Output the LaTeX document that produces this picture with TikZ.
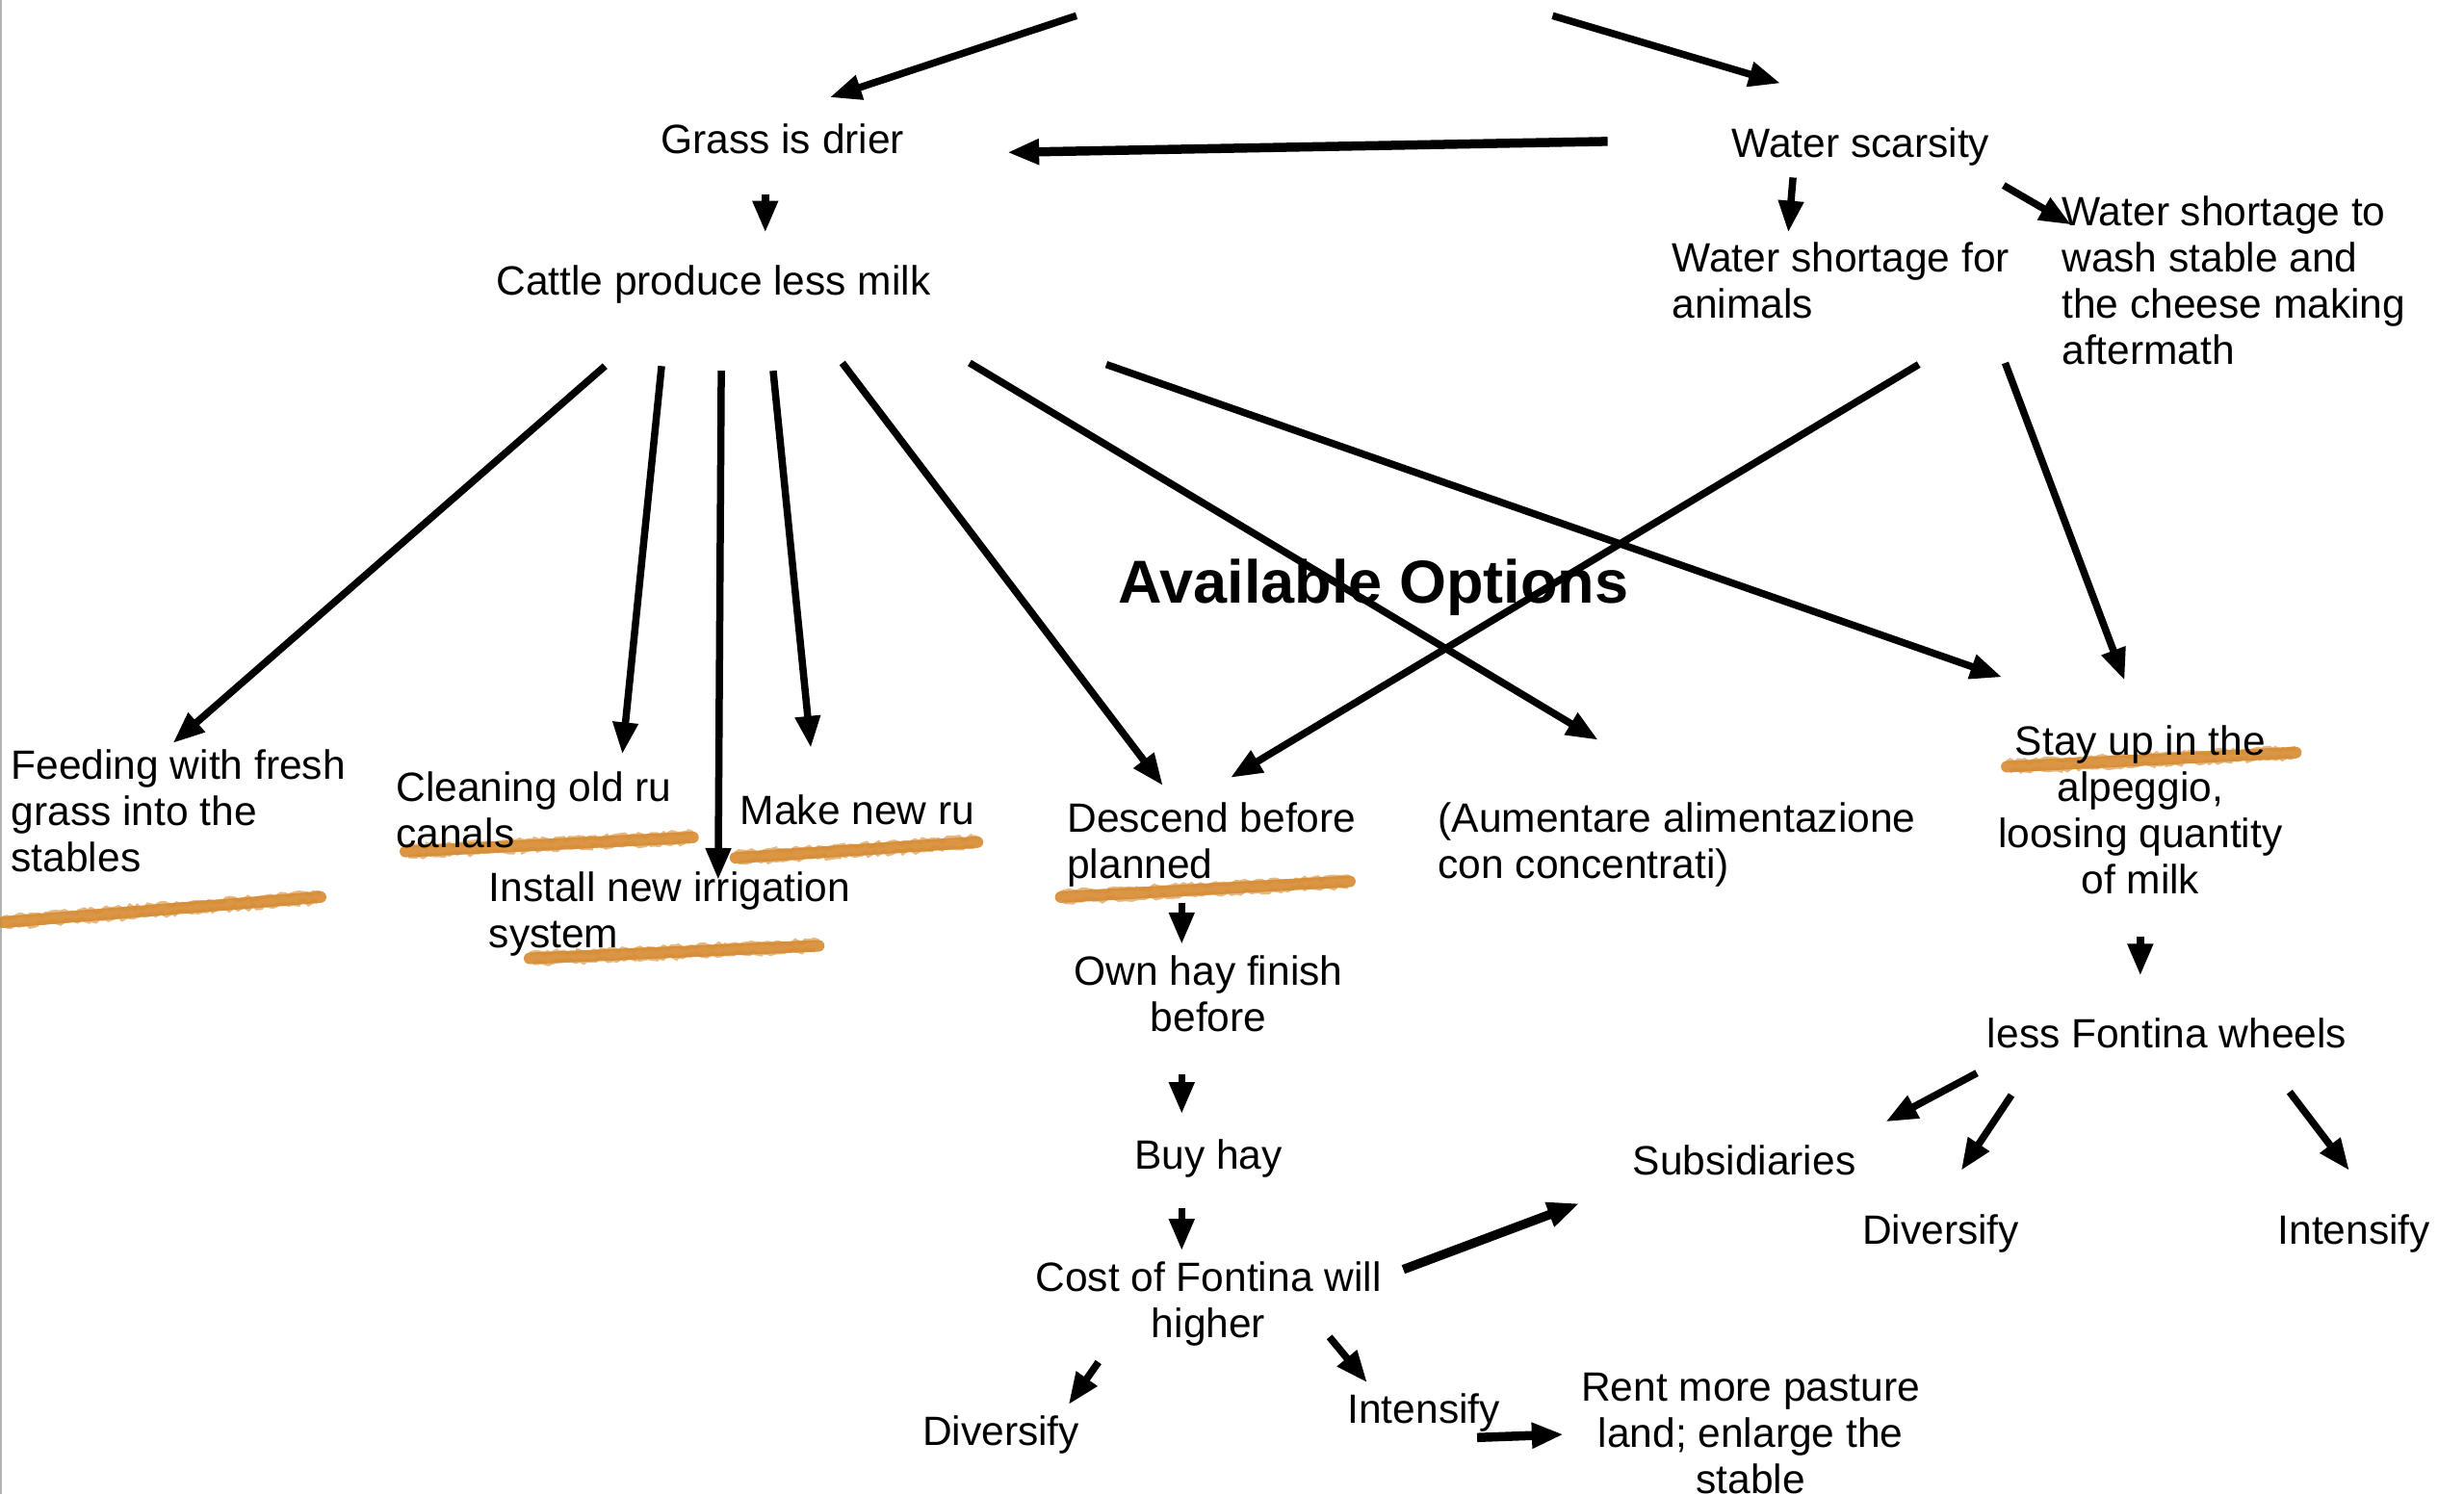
\documentclass[tikz,border=0pt]{standalone}
\usepackage{fontspec}
\setmainfont{Liberation Sans}
\usetikzlibrary{arrows.meta,decorations.pathmorphing}
\definecolor{brush}{RGB}{214,139,49}

\begin{document}
\begin{tikzpicture}[x=1.632pt,y=-1.632pt,
  lbl/.style={inner sep=0pt, font=\fontsize{42.5}{48}\selectfont},
  lblL/.style={lbl, align=left, anchor=base west},
  lblC/.style={lbl, align=center, anchor=base},
  conn/.style={line width=7.5pt, -{Triangle[length=33pt,width=25pt]}},
  heavy/.style={conn, line width=9.5pt},
  hilite/.style={draw=brush, line width=12pt, line cap=round, opacity=0.9},
  hiliteedge/.style={draw=brush, line width=4pt, opacity=0.6,
    decorate, decoration={random steps, segment length=4pt, amplitude=2pt}}]
\pgfmathsetseed{7}

% page and slide edge
\useasboundingbox (0,0) rectangle (1568,951);
\fill[white] (0,0) rectangle (1568,951);
\draw[gray!60, line width=2pt] (0.6,0) -- (0.6,951);

% highlighter strokes under the chosen options
\foreach \xa/\ya/\xb/\yb in {2/587/204/571, 258/542/441/533, 468/546/622/536,
                             337/610/521/602, 675/571/859/561, 1277/488/1461/479} {
  \draw[hilite] (\xa,\ya) -- (\xb,\yb);
  \draw[hiliteedge] (\xa,{\ya-3}) -- (\xb,{\yb-3});
  \draw[hiliteedge] ({\xa+2},{\ya+3}) -- ({\xb-2},{\yb+3});
}

% labels (multi-line labels are placed by the baseline of their last line)
\node[lblC] (grass) at (498,98) {Grass is drier};
\node[lblC] (cattle) at (454,188) {Cattle produce less milk};
\node[lblC] (water) at (1184,100) {Water scarsity};
\node[lblL] (wanim) at (1064,202.4) {Water shortage for\\animals};
\node[lblL] (wwash) at (1312,232.2) {Water shortage to\\wash stable and\\the cheese making\\aftermath};
\node[inner sep=0pt, anchor=base, font=\fontsize{63}{72}\selectfont\bfseries] (avail) at (874,384) {Available Options};
\node[lblL] (feed) at (7,554.8) {Feeding with fresh\\grass into the\\stables};
\node[lblL] (clean) at (252,539.4) {Cleaning old ru\\canals};
\node[lblL] (make) at (471,525) {Make new ru};
\node[lblL] (install) at (311,603.4) {Install new irrigation\\system};
\node[lblL] (descend) at (679,559.4) {Descend before\\planned};
\node[lblL] (aument) at (915,559.4) {(Aumentare alimentazione\\con concentrati)};
\node[lblC] (stay) at (1362,569.2) {Stay up in the\\alpeggio,\\loosing quantity\\of milk};
\node[lblC] (ownhay) at (769,656.4) {Own hay finish\\before};
\node[lblC] (buyhay) at (769,744) {Buy hay};
\node[lblC] (cost) at (769,851.4) {Cost of Fontina will\\higher};
\node[lblC] (divA) at (637,920) {Diversify};
\node[lblC] (intA) at (906,906) {Intensify};
\node[lblC] (rent) at (1114,950.8) {Rent more pasture\\land; enlarge the\\stable};
\node[lblC] (lessf) at (1379,667) {less Fontina wheels};
\node[lblC] (subs) at (1110,748) {Subsidiaries};
\node[lblC] (divB) at (1235,792) {Diversify};
\node[lblC] (intB) at (1498,792) {Intensify};

% connector end points
\coordinate (topL) at (685,10);
\coordinate (topR) at (988,10);
\coordinate (grassIn) at (528,62);
\coordinate (waterIn) at (1133,53);
\coordinate (waterOutL) at (1023,90);
\coordinate (grassInR) at (641,97);
\coordinate (grassOut) at (487,124);
\coordinate (cattleIn) at (487,148);
\coordinate (waterOutA) at (1141,113);
\coordinate (wanimIn) at (1138,148);
\coordinate (waterOutB) at (1275,118);
\coordinate (wwashIn) at (1318,143);
\coordinate (cat1) at (385,233);
\coordinate (cat2) at (421,233);
\coordinate (cat3) at (459,236);
\coordinate (cat4) at (492,236);
\coordinate (cat5) at (536,231);
\coordinate (cat6) at (617,231);
\coordinate (cat7) at (704,232);
\coordinate (feedIn) at (110,473);
\coordinate (cleanIn) at (396,480);
\coordinate (installIn) at (457,560);
\coordinate (makeIn) at (516,476);
\coordinate (descendIn) at (740,500);
\coordinate (aumentIn) at (1017,471);
\coordinate (stayInL) at (1274,431);
\coordinate (wanimOut) at (1221,232);
\coordinate (descendInR) at (783,495);
\coordinate (wwashOut) at (1276,231);
\coordinate (stayIn) at (1352,433);
\coordinate (descendOut) at (752,575);
\coordinate (ownhayIn) at (752,601);
\coordinate (ownhayOut) at (752,684);
\coordinate (buyhayIn) at (752,709);
\coordinate (buyhayOut) at (752,769);
\coordinate (costIn) at (752,796);
\coordinate (stayOut) at (1362,596);
\coordinate (lessfIn) at (1362,621);
\coordinate (lessfOutA) at (1258,683);
\coordinate (subsIn) at (1200,714);
\coordinate (lessfOutB) at (1280,697);
\coordinate (divBIn) at (1248,745);
\coordinate (lessfOutC) at (1457,695);
\coordinate (intBIn) at (1495,745);
\coordinate (costOutR) at (893,808);
\coordinate (subsInL) at (1005,766);
\coordinate (costOutA) at (699,867);
\coordinate (divAIn) at (680,894);
\coordinate (costOutB) at (846,851);
\coordinate (intAIn) at (870,880);
\coordinate (intAOut) at (940,915);
\coordinate (rentIn) at (995,913);

% connectors
\draw[conn] (topL) -- (grassIn);
\draw[conn] (topR) -- (waterIn);
\draw[heavy] (waterOutL) -- (grassInR);
\draw[conn] (grassOut) -- (cattleIn);
\draw[conn] (waterOutA) -- (wanimIn);
\draw[conn] (waterOutB) -- (wwashIn);
\draw[conn] (cat1) -- (feedIn);
\draw[conn] (cat2) -- (cleanIn);
\draw[conn] (cat3) -- (installIn);
\draw[conn] (cat4) -- (makeIn);
\draw[conn] (cat5) -- (descendIn);
\draw[conn] (cat6) -- (aumentIn);
\draw[conn] (cat7) -- (stayInL);
\draw[conn] (wanimOut) -- (descendInR);
\draw[conn] (wwashOut) -- (stayIn);
\draw[conn] (descendOut) -- (ownhayIn);
\draw[conn] (ownhayOut) -- (buyhayIn);
\draw[conn] (buyhayOut) -- (costIn);
\draw[conn] (stayOut) -- (lessfIn);
\draw[conn] (lessfOutA) -- (subsIn);
\draw[conn] (lessfOutB) -- (divBIn);
\draw[conn] (lessfOutC) -- (intBIn);
\draw[heavy] (costOutR) -- (subsInL);
\draw[conn] (costOutA) -- (divAIn);
\draw[conn] (costOutB) -- (intAIn);
\draw[heavy] (intAOut) -- (rentIn);
\end{tikzpicture}
\end{document}
